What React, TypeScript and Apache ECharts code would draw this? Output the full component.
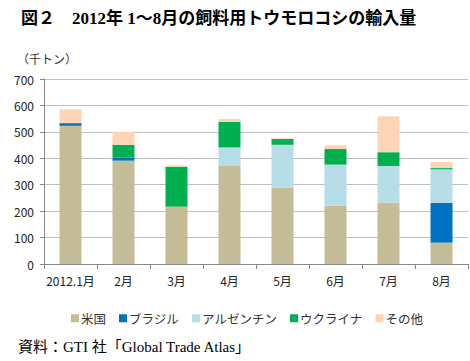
import React, { useEffect, useRef } from "react";
import * as echarts from "echarts";

const categories = ["2012.1月", "2月", "3月", "4月", "5月", "6月", "7月", "8月"];
const usa = [523, 391, 217, 371, 289, 221, 233, 81];
const brazil = [10, 11, 0, 0, 0, 0, 0, 150];
const argentina = [0, 0, 0, 70, 162, 155, 138, 127];
const ukraine = [0, 49, 151, 97, 22, 59, 52, 5];
const others = [52, 49, 5, 11, 2, 14, 136, 23];
const yTicks = [0, 100, 200, 300, 400, 500, 600, 700];

const seriesNames = ["米国", "ブラジル", "アルゼンチン", "ウクライナ", "その他"];
const seriesColors = ["#C4BD97", "#0070C0", "#B7DDE8", "#00B050", "#FBD5B5"];

export default function App() {
  const ref = useRef<HTMLDivElement>(null);
  useEffect(() => {
    if (!ref.current) return;
    const chart = echarts.init(ref.current, null, { renderer: "svg" });
    const dataSets = [usa, brazil, argentina, ukraine, others];
    const sans = "'Noto Sans CJK JP', 'Noto Sans', sans-serif";
    chart.setOption({
      animation: false,
      backgroundColor: "#ffffff",
      textStyle: { fontFamily: sans },
      grid: { left: 44, right: 2, top: 79, bottom: 97, containLabel: false },
      title: {
        text: "図２　2012年 1～8月の飼料用トウモロコシの輸入量",
        left: 16,
        top: 5,
        textStyle: {
          fontSize: 17,
          fontWeight: "bold",
          color: "#000",
          fontFamily: "'Liberation Serif', 'Noto Sans CJK JP', serif",
        },
      },
      graphic: [
        {
          type: "text",
          left: 17,
          top: 52,
          style: { text: "（千トン）", fontSize: 12, fill: "#333", fontFamily: sans },
        },
        {
          type: "text",
          left: 18,
          top: 339,
          style: {
            text: "資料：GTI 社「Global Trade Atlas」",
            fontSize: 15,
            fill: "#000",
            fontFamily: "'Liberation Serif', 'Noto Sans CJK JP', serif",
          },
        },
      ],
      legend: {
        top: 307,
        left: 66,
        itemWidth: 8,
        itemHeight: 8,
        itemGap: 13,
        icon: "rect",
        textStyle: { fontSize: 12.5, color: "#333", fontFamily: sans, padding: [0, 0, 0, -3] },
        data: seriesNames,
      },
      xAxis: {
        type: "category",
        data: categories,
        boundaryGap: true,
        axisLine: { lineStyle: { color: "#868686" } },
        axisTick: { show: true, length: 5, lineStyle: { color: "#868686" } },
        axisLabel: { fontSize: 12, color: "#222", margin: 10, interval: 0 },
      },
      yAxis: {
        type: "value",
        min: yTicks[0],
        max: yTicks[yTicks.length - 1],
        interval: 100,
        axisLine: { show: true, lineStyle: { color: "#868686" } },
        axisTick: { show: true, length: 4, lineStyle: { color: "#868686" } },
        axisLabel: { fontSize: 12, color: "#222", margin: 10 },
        splitLine: { lineStyle: { color: "#BFBFBF" } },
      },
      series: seriesNames.map((name, i) => ({
        name,
        type: "bar",
        stack: "total",
        barWidth: 22,
        data: dataSets[i],
        itemStyle: { color: seriesColors[i] },
      })),
    });
    return () => chart.dispose();
  }, []);
  return <div ref={ref} style={{ width: 470, height: 361, position: "absolute", left: 0, top: 0 }} />;
}
